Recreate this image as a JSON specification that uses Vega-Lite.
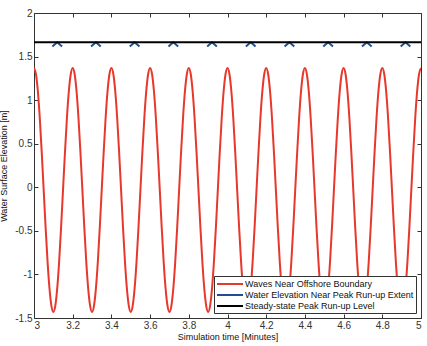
{
"$schema": "https://vega.github.io/schema/vega-lite/v6.json",
"width": 387, "height": 305,
"autosize": "none",
"padding": {"left": 34, "top": 13, "right": 6, "bottom": 28},
"background": "white",
"config": {
  "font": "Liberation Sans",
  "view": {"stroke": null},
  "axis": {"grid": false, "domainColor": "#333", "tickColor": "#333", "tickSize": -4, "labelColor": "#333", "labelFontSize": 10, "labelFont": "Liberation Sans", "titleFont": "Liberation Sans", "titleFontWeight": "normal", "titleFontSize": 9, "titleColor": "#111", "domainWidth": 1}
},
"datasets": {
"red": [
{"t":3.00,"y":1.37},{"t":3.01,"y":1.30},{"t":3.02,"y":1.10},{"t":3.03,"y":0.79},{"t":3.04,"y":0.40},{"t":3.05,"y":-0.03},{"t":3.06,"y":-0.46},{"t":3.07,"y":-0.85},{"t":3.08,"y":-1.16},{"t":3.09,"y":-1.36},{"t":3.10,"y":-1.43},{"t":3.11,"y":-1.36},{"t":3.12,"y":-1.16},{"t":3.13,"y":-0.85},{"t":3.14,"y":-0.46},{"t":3.15,"y":-0.03},{"t":3.16,"y":0.40},{"t":3.17,"y":0.79},{"t":3.18,"y":1.10},{"t":3.19,"y":1.30},
{"t":3.20,"y":1.37},{"t":3.21,"y":1.30},{"t":3.22,"y":1.10},{"t":3.23,"y":0.79},{"t":3.24,"y":0.40},{"t":3.25,"y":-0.03},{"t":3.26,"y":-0.46},{"t":3.27,"y":-0.85},{"t":3.28,"y":-1.16},{"t":3.29,"y":-1.36},{"t":3.30,"y":-1.43},{"t":3.31,"y":-1.36},{"t":3.32,"y":-1.16},{"t":3.33,"y":-0.85},{"t":3.34,"y":-0.46},{"t":3.35,"y":-0.03},{"t":3.36,"y":0.40},{"t":3.37,"y":0.79},{"t":3.38,"y":1.10},{"t":3.39,"y":1.30},
{"t":3.40,"y":1.37},{"t":3.41,"y":1.30},{"t":3.42,"y":1.10},{"t":3.43,"y":0.79},{"t":3.44,"y":0.40},{"t":3.45,"y":-0.03},{"t":3.46,"y":-0.46},{"t":3.47,"y":-0.85},{"t":3.48,"y":-1.16},{"t":3.49,"y":-1.36},{"t":3.50,"y":-1.43},{"t":3.51,"y":-1.36},{"t":3.52,"y":-1.16},{"t":3.53,"y":-0.85},{"t":3.54,"y":-0.46},{"t":3.55,"y":-0.03},{"t":3.56,"y":0.40},{"t":3.57,"y":0.79},{"t":3.58,"y":1.10},{"t":3.59,"y":1.30},
{"t":3.60,"y":1.37},{"t":3.61,"y":1.30},{"t":3.62,"y":1.10},{"t":3.63,"y":0.79},{"t":3.64,"y":0.40},{"t":3.65,"y":-0.03},{"t":3.66,"y":-0.46},{"t":3.67,"y":-0.85},{"t":3.68,"y":-1.16},{"t":3.69,"y":-1.36},{"t":3.70,"y":-1.43},{"t":3.71,"y":-1.36},{"t":3.72,"y":-1.16},{"t":3.73,"y":-0.85},{"t":3.74,"y":-0.46},{"t":3.75,"y":-0.03},{"t":3.76,"y":0.40},{"t":3.77,"y":0.79},{"t":3.78,"y":1.10},{"t":3.79,"y":1.30},
{"t":3.80,"y":1.37},{"t":3.81,"y":1.30},{"t":3.82,"y":1.10},{"t":3.83,"y":0.79},{"t":3.84,"y":0.40},{"t":3.85,"y":-0.03},{"t":3.86,"y":-0.46},{"t":3.87,"y":-0.85},{"t":3.88,"y":-1.16},{"t":3.89,"y":-1.36},{"t":3.90,"y":-1.43},{"t":3.91,"y":-1.36},{"t":3.92,"y":-1.16},{"t":3.93,"y":-0.85},{"t":3.94,"y":-0.46},{"t":3.95,"y":-0.03},{"t":3.96,"y":0.40},{"t":3.97,"y":0.79},{"t":3.98,"y":1.10},{"t":3.99,"y":1.30},
{"t":4.00,"y":1.37},{"t":4.01,"y":1.30},{"t":4.02,"y":1.10},{"t":4.03,"y":0.79},{"t":4.04,"y":0.40},{"t":4.05,"y":-0.03},{"t":4.06,"y":-0.46},{"t":4.07,"y":-0.85},{"t":4.08,"y":-1.16},{"t":4.09,"y":-1.36},{"t":4.10,"y":-1.43},{"t":4.11,"y":-1.36},{"t":4.12,"y":-1.16},{"t":4.13,"y":-0.85},{"t":4.14,"y":-0.46},{"t":4.15,"y":-0.03},{"t":4.16,"y":0.40},{"t":4.17,"y":0.79},{"t":4.18,"y":1.10},{"t":4.19,"y":1.30},
{"t":4.20,"y":1.37},{"t":4.21,"y":1.30},{"t":4.22,"y":1.10},{"t":4.23,"y":0.79},{"t":4.24,"y":0.40},{"t":4.25,"y":-0.03},{"t":4.26,"y":-0.46},{"t":4.27,"y":-0.85},{"t":4.28,"y":-1.16},{"t":4.29,"y":-1.36},{"t":4.30,"y":-1.43},{"t":4.31,"y":-1.36},{"t":4.32,"y":-1.16},{"t":4.33,"y":-0.85},{"t":4.34,"y":-0.46},{"t":4.35,"y":-0.03},{"t":4.36,"y":0.40},{"t":4.37,"y":0.79},{"t":4.38,"y":1.10},{"t":4.39,"y":1.30},
{"t":4.40,"y":1.37},{"t":4.41,"y":1.30},{"t":4.42,"y":1.10},{"t":4.43,"y":0.79},{"t":4.44,"y":0.40},{"t":4.45,"y":-0.03},{"t":4.46,"y":-0.46},{"t":4.47,"y":-0.85},{"t":4.48,"y":-1.16},{"t":4.49,"y":-1.36},{"t":4.50,"y":-1.43},{"t":4.51,"y":-1.36},{"t":4.52,"y":-1.16},{"t":4.53,"y":-0.85},{"t":4.54,"y":-0.46},{"t":4.55,"y":-0.03},{"t":4.56,"y":0.40},{"t":4.57,"y":0.79},{"t":4.58,"y":1.10},{"t":4.59,"y":1.30},
{"t":4.60,"y":1.37},{"t":4.61,"y":1.30},{"t":4.62,"y":1.10},{"t":4.63,"y":0.79},{"t":4.64,"y":0.40},{"t":4.65,"y":-0.03},{"t":4.66,"y":-0.46},{"t":4.67,"y":-0.85},{"t":4.68,"y":-1.16},{"t":4.69,"y":-1.36},{"t":4.70,"y":-1.43},{"t":4.71,"y":-1.36},{"t":4.72,"y":-1.16},{"t":4.73,"y":-0.85},{"t":4.74,"y":-0.46},{"t":4.75,"y":-0.03},{"t":4.76,"y":0.40},{"t":4.77,"y":0.79},{"t":4.78,"y":1.10},{"t":4.79,"y":1.30},
{"t":4.80,"y":1.37},{"t":4.81,"y":1.30},{"t":4.82,"y":1.10},{"t":4.83,"y":0.79},{"t":4.84,"y":0.40},{"t":4.85,"y":-0.03},{"t":4.86,"y":-0.46},{"t":4.87,"y":-0.85},{"t":4.88,"y":-1.16},{"t":4.89,"y":-1.36},{"t":4.90,"y":-1.43},{"t":4.91,"y":-1.36},{"t":4.92,"y":-1.16},{"t":4.93,"y":-0.85},{"t":4.94,"y":-0.46},{"t":4.95,"y":-0.03},{"t":4.96,"y":0.40},{"t":4.97,"y":0.79},{"t":4.98,"y":1.10},{"t":4.99,"y":1.30},
{"t":5.00,"y":1.37}
],
"blue": [
{"t":3.095,"y":1.615,"seg":0},{"t":3.12,"y":1.663,"seg":0},{"t":3.145,"y":1.615,"seg":0},
{"t":3.295,"y":1.615,"seg":1},{"t":3.32,"y":1.663,"seg":1},{"t":3.345,"y":1.615,"seg":1},
{"t":3.495,"y":1.615,"seg":2},{"t":3.52,"y":1.663,"seg":2},{"t":3.545,"y":1.615,"seg":2},
{"t":3.695,"y":1.615,"seg":3},{"t":3.72,"y":1.663,"seg":3},{"t":3.745,"y":1.615,"seg":3},
{"t":3.895,"y":1.615,"seg":4},{"t":3.92,"y":1.663,"seg":4},{"t":3.945,"y":1.615,"seg":4},
{"t":4.095,"y":1.615,"seg":5},{"t":4.12,"y":1.663,"seg":5},{"t":4.145,"y":1.615,"seg":5},
{"t":4.295,"y":1.615,"seg":6},{"t":4.32,"y":1.663,"seg":6},{"t":4.345,"y":1.615,"seg":6},
{"t":4.495,"y":1.615,"seg":7},{"t":4.52,"y":1.663,"seg":7},{"t":4.545,"y":1.615,"seg":7},
{"t":4.695,"y":1.615,"seg":8},{"t":4.72,"y":1.663,"seg":8},{"t":4.745,"y":1.615,"seg":8},
{"t":4.895,"y":1.615,"seg":9},{"t":4.92,"y":1.663,"seg":9},{"t":4.945,"y":1.615,"seg":9}
],
"black": [{"t":3,"y":1.663},{"t":5,"y":1.663}]
},
"resolve": {"axis": {"x": "independent", "y": "independent"}},
"layer": [
{
  "data": {"name": "red"},
  "transform": [{"calculate": "'Waves Near Offshore Boundary'", "as": "series"}],
  "mark": {"type": "line", "strokeWidth": 2, "interpolate": "monotone", "clip": true},
  "encoding": {
    "x": {"field": "t", "type": "quantitative", "scale": {"domain": [3, 5], "nice": false, "zero": false},
          "axis": {"title": "Simulation time [Minutes]", "values": [3,3.2,3.4,3.6,3.8,4,4.2,4.4,4.6,4.8,5], "labelPadding": 6, "titlePadding": 2, "labelExpr": "toString(datum.value)"}},
    "y": {"field": "y", "type": "quantitative", "scale": {"domain": [-1.5, 2], "nice": false, "zero": false},
          "axis": {"title": "Water Surface Elevation [m]", "values": [-1.5,-1,-0.5,0,0.5,1,1.5,2], "labelPadding": 6, "titlePadding": 6, "labelExpr": "toString(datum.value)"}},
    "color": {"field": "series", "type": "nominal",
      "scale": {"domain": ["Waves Near Offshore Boundary", "Water Elevation Near Peak Run-up Extent", "Steady-state Peak Run-up Level"], "range": ["#e8382b", "#1d4f91", "#000000"]},
      "legend": {"title": null, "orient": "bottom-right", "offset": 5, "symbolType": "M-2.6,0H2.6", "symbolSize": 100, "symbolStrokeWidth": 2, "symbolFillColor": "transparent", "labelFontSize": 9, "labelLimit": 0, "labelColor": "#111", "strokeColor": "#333", "fillColor": "white", "padding": 2, "rowPadding": 0, "labelOffset": 9, "symbolOffset": 8}}
  }
},
{
  "data": {"name": "blue"},
  "transform": [{"calculate": "'Water Elevation Near Peak Run-up Extent'", "as": "series"}],
  "mark": {"type": "line", "strokeWidth": 2},
  "encoding": {
    "x": {"field": "t", "type": "quantitative", "axis": null},
    "y": {"field": "y", "type": "quantitative", "axis": null},
    "detail": {"field": "seg"},
    "color": {"field": "series", "type": "nominal"}
  }
},
{
  "data": {"name": "black"},
  "transform": [{"calculate": "'Steady-state Peak Run-up Level'", "as": "series"}],
  "mark": {"type": "line", "strokeWidth": 2},
  "encoding": {
    "x": {"field": "t", "type": "quantitative", "axis": {"orient": "top", "labels": false, "title": null, "values": [3,3.2,3.4,3.6,3.8,4,4.2,4.4,4.6,4.8,5]}},
    "y": {"field": "y", "type": "quantitative", "axis": {"orient": "right", "labels": false, "title": null, "values": [-1.5,-1,-0.5,0,0.5,1,1.5,2]}},
    "color": {"field": "series", "type": "nominal"}
  }
}
]
}
